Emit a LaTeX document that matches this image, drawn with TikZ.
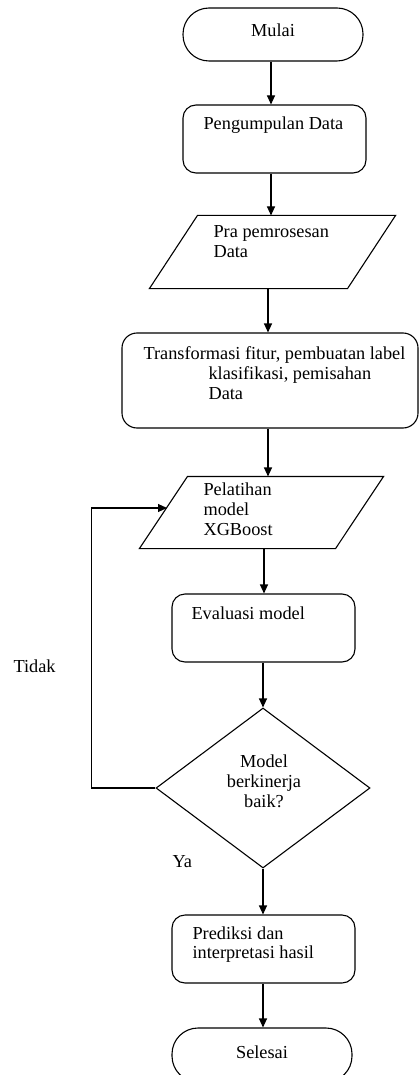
\documentclass[tikz,border=0pt]{standalone}
\usepackage{fontspec}
\setmainfont{Liberation Serif}
\usetikzlibrary{arrows.meta,shapes.geometric}
\begin{document}
\begin{tikzpicture}[x=1pt,y=-1pt,
  line width=1.1pt,
  every node/.style={font=\fontsize{18.3}{19.8}\selectfont},
  term/.style={draw, rectangle, rounded corners=26pt, inner sep=0pt},
  proc/.style={draw, rectangle, rounded corners=13pt, inner sep=0pt},
  io/.style={inner sep=0pt},
  decision/.style={draw, diamond, inner sep=0pt, minimum width=214pt, minimum height=160pt},
  % multi-line text nodes: the base anchor sits on the last line
  txt/.style={inner sep=0pt, anchor=base west, align=left},
  flow/.style={-{Triangle[length=9pt,width=8pt]}}
]
\useasboundingbox (0,0) rectangle (419,1075);
\clip (0,0) rectangle (419,1075);

% Start
\node[term, minimum width=180pt, minimum height=53pt] (mulai) at (273,34.5) {};
\node[inner sep=0pt, anchor=base] (tmulai) at (273,37) {Mulai};

% Data collection
\node[proc, minimum width=183pt, minimum height=68pt] (peng) at (274.5,139) {};
\node[txt] (tpeng) at (203,130) {Pengumpulan Data};

% Preprocessing (parallelogram)
\node[io, minimum width=245pt, minimum height=72pt] (pra) at (272.5,252) {};
\draw ([xshift=48pt]pra.north west) -- (pra.north east)
      -- ([xshift=-48pt]pra.south east) -- (pra.south west) -- cycle;
\node[txt] (tpra) at (213,257.5) {Pra pemrosesan\\Data};

% Feature transformation
\node[proc, rounded corners=15pt, minimum width=296pt, minimum height=95pt] (trans) at (270,380.5) {};
\node[txt] (ttrans) at (143,399) {Transformasi fitur, pembuatan label\\\hspace*{65pt}klasifikasi, pemisahan\\\hspace*{65pt}Data};

% Training (parallelogram)
\node[io, minimum width=243pt, minimum height=71pt] (pel) at (261.5,512.5) {};
\draw ([xshift=48pt]pel.north west) -- (pel.north east)
      -- ([xshift=-48pt]pel.south east) -- (pel.south west) -- cycle;
\coordinate (pelin) at (167,508);
\node[txt] (tpel) at (203,535.5) {Pelatihan\\model\\XGBoost};

% Evaluation
\node[proc, minimum width=183pt, minimum height=68pt] (eval) at (263.5,628) {};
\node[txt] (teval) at (191,619) {Evaluasi model};

% Decision
\node[decision] (dia) at (263,788) {};
\node[inner sep=0pt, anchor=base, align=center] (tdia) at (264,807.5) {Model\\berkinerja\\baik?};

% Prediction
\node[proc, minimum width=183pt, minimum height=68pt] (pred) at (263.5,949) {};
\node[txt] (tpred) at (192,958.8) {Prediksi dan\\interpretasi hasil};

% End
\node[term, minimum width=180pt, minimum height=54pt] (selesai) at (262,1055) {};
\node[inner sep=0pt, anchor=base] (tselesai) at (262,1058) {Selesai};

% Branch labels
\node[txt] (tidak) at (13,672) {Tidak};
\node[txt] (ya) at (172,867) {Ya};

% Connectors
\draw[flow] ([xshift=-2pt]mulai.south) -- ([xshift=-2pt]mulai.south |- peng.north);
\draw[flow] ([xshift=-3.5pt]peng.south) -- ([xshift=-3.5pt]peng.south |- pra.north);
\draw[flow] ([xshift=-4.5pt]pra.south) -- ([xshift=-4.5pt]pra.south |- trans.north);
\draw[flow] ([xshift=-2pt]trans.south) -- ([xshift=-2pt]trans.south |- pel.north);
\draw[flow] ([xshift=2.5pt]pel.south) -- ([xshift=2.5pt]pel.south |- eval.north);
\draw[flow] ([xshift=-0.5pt]eval.south) -- ([xshift=-0.5pt]eval.south |- dia.north);
\draw[flow] (dia.south) -- (dia.south |- pred.north);
\draw[flow] ([xshift=-0.5pt]pred.south) -- ([xshift=-0.5pt]pred.south |- selesai.north);
\draw[flow] (dia.west) -- ++(-64,0) |- (pelin);
\end{tikzpicture}
\end{document}
